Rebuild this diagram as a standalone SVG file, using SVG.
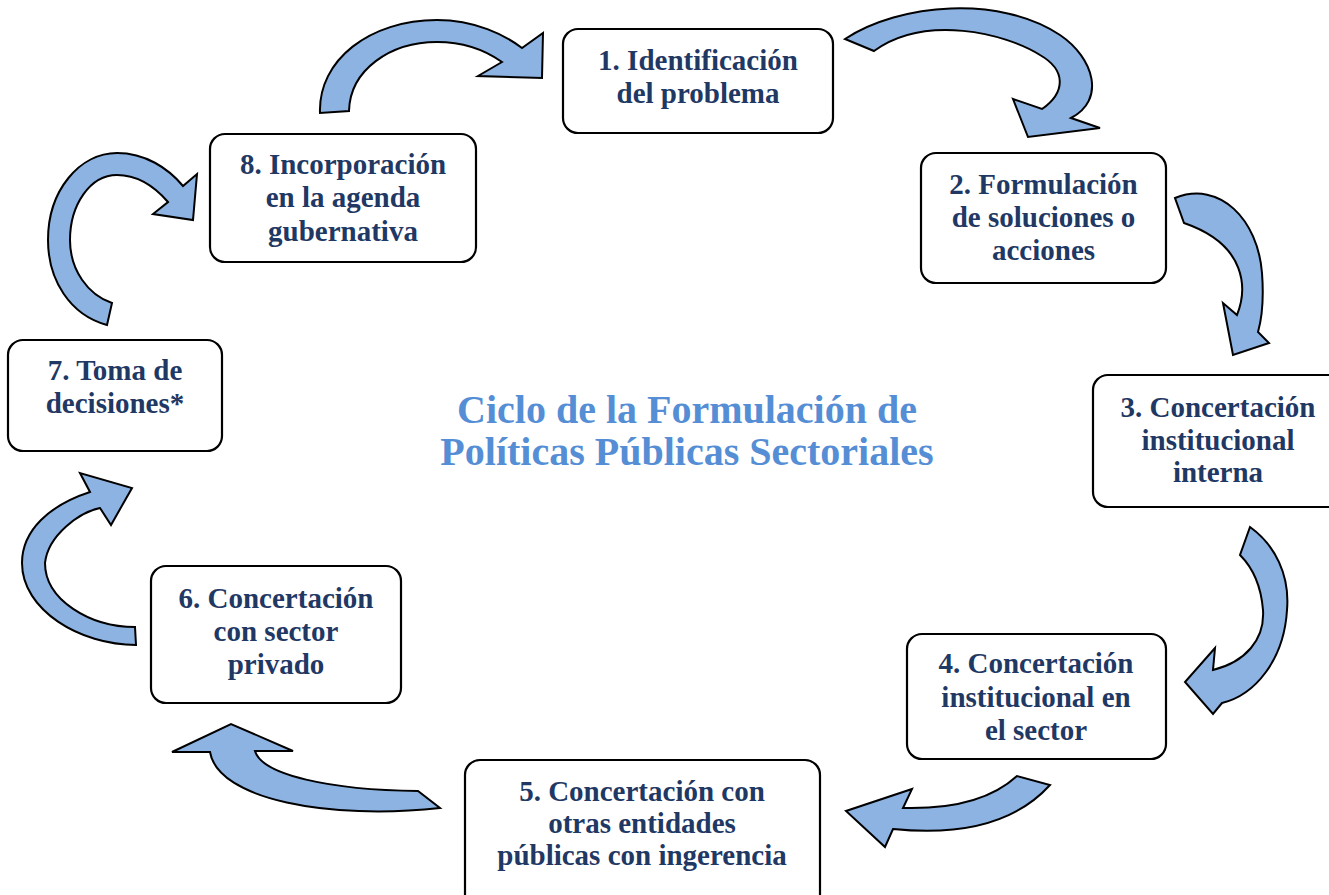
<svg xmlns="http://www.w3.org/2000/svg" width="1329" height="895" viewBox="0 0 1329 895">
<style>
.box{fill:#ffffff;stroke:#000000;stroke-width:2.2}
.lbl{font-family:"Liberation Serif","Times New Roman",serif;font-weight:bold;font-size:29px;fill:#1F3864;text-anchor:middle}
.title{font-family:"Liberation Serif","Times New Roman",serif;font-weight:bold;font-size:40px;fill:#558ED5;text-anchor:middle}
.arr{fill:#8DB3E2;stroke:#000000;stroke-width:2;stroke-linejoin:miter}
</style>
<rect width="1329" height="895" fill="#ffffff"/>
<g id="connectors">
<path class="arr" d="M320,113 C318,60 370,20 437,20 C475,20 505,35 522,48 L543,33 L542,78 L478,76 L502,62 C485,50 465,42 437,42 C390,42 350,70 349,111 Z"/>
<path class="arr" d="M845,39 C900,3 1000,-5 1060,35 C1094,58 1106,100 1071,118 L1100,128 L1028,137 L1013,99 L1042,109 C1066,92 1066,70 1040,55 C1005,33 925,14 874,51 Z"/>
<path class="arr" d="M1175,198 C1220,180 1258,220 1262,273 C1264,300 1262,318 1258,332 L1269,343 L1233,355 L1223,303 L1237,315 C1247,290 1248,245 1184,223 Z"/>
<path class="arr" d="M1250,527 C1275,545 1290,575 1287,610 C1284,660 1255,695 1222,703 L1213,714 L1185,682 L1215,648 L1213,670 C1245,662 1265,640 1263,610 C1261,585 1252,567 1240,555 Z"/>
<path class="arr" d="M1017,776 Q980,810 903,808 L912,789 L846,811 L885,847 L893,829 Q1000,840 1050,785 Z"/>
<path class="arr" d="M418,791 C330,790 262,775 255,751 L293,751 L231,724 L172,752 L210,752 C218,800 330,820 440,808 Z"/>
<path class="arr" d="M136,645 C80,645 22,610 22,563 C22,530 50,505 90,492 L80,473 L132,488 L111,525 L100,508 C80,512 48,535 45,563 C45,600 90,627 135,627 Z"/>
<path class="arr" d="M107,325 C70,315 48,280 48,240 C48,190 80,153 117,153 C145,153 168,168 183,186 L197,174 L193,220 L153,214 L168,202 C155,187 137,175 117,175 C90,175 70,205 70,240 C70,270 88,295 112,303 Z"/>
</g>
<g id="node1">
<rect class="box" x="563" y="29" width="270" height="104" rx="15"/>
<text class="lbl" x="698" y="70">1. Identificación</text>
<text class="lbl" x="698" y="103">del problema</text>
</g>
<g id="node2">
<rect class="box" x="921" y="153" width="245" height="130" rx="15"/>
<text class="lbl" x="1043.5" y="194">2. Formulación</text>
<text class="lbl" x="1043.5" y="227">de soluciones o</text>
<text class="lbl" x="1043.5" y="260">acciones</text>
</g>
<g id="node3">
<rect class="box" x="1093" y="375" width="252" height="132" rx="15"/>
<text class="lbl" x="1218" y="417">3. Concertación</text>
<text class="lbl" x="1218" y="450">institucional</text>
<text class="lbl" x="1218" y="482">interna</text>
</g>
<g id="node4">
<rect class="box" x="907" y="634" width="259" height="125" rx="15"/>
<text class="lbl" x="1036" y="673">4. Concertación</text>
<text class="lbl" x="1036" y="707">institucional en</text>
<text class="lbl" x="1036" y="740">el sector</text>
</g>
<g id="node5">
<rect class="box" x="465" y="760" width="355" height="150" rx="15"/>
<text class="lbl" x="642" y="801">5. Concertación con</text>
<text class="lbl" x="642" y="833">otras entidades</text>
<text class="lbl" x="642" y="865">públicas con ingerencia</text>
</g>
<g id="node6">
<rect class="box" x="151" y="566" width="250" height="137" rx="15"/>
<text class="lbl" x="276" y="608">6. Concertación</text>
<text class="lbl" x="276" y="641">con sector</text>
<text class="lbl" x="276" y="674">privado</text>
</g>
<g id="node7">
<rect class="box" x="8" y="340" width="214" height="111" rx="15"/>
<text class="lbl" x="115" y="380">7. Toma de</text>
<text class="lbl" x="115" y="413">decisiones*</text>
</g>
<g id="node8">
<rect class="box" x="210" y="134" width="266" height="128" rx="15"/>
<text class="lbl" x="343" y="174">8. Incorporación</text>
<text class="lbl" x="343" y="207">en la agenda</text>
<text class="lbl" x="343" y="241">gubernativa</text>
</g>
<g id="title">
<text class="title" x="687" y="423">Ciclo de la Formulación de</text>
<text class="title" x="687" y="465">Políticas Públicas Sectoriales</text>
</g>
</svg>
